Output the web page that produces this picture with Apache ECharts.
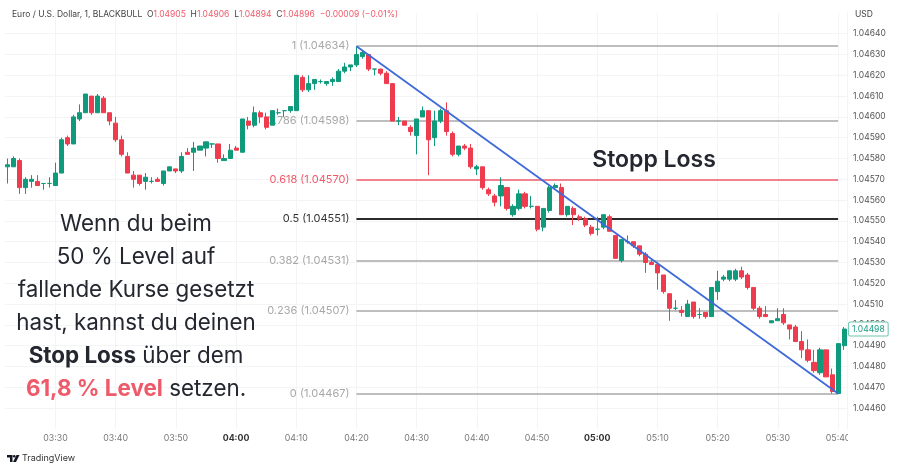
<!DOCTYPE html>
<html>
<head>
<meta charset="utf-8">
<title>EUR/USD Fibonacci</title>
<script src="https://cdn.jsdelivr.net/npm/echarts@6/dist/echarts.min.js"></script>
<style>
  html, body { margin: 0; padding: 0; background: #fff; }
  #chart { width: 900px; height: 470px; }
</style>
</head>
<body>
<div id="chart"></div>
<script>
const times = [
  '03:22','03:23','03:24','03:25','03:26','03:27','03:28','03:29','03:30','03:31',
  '03:32','03:33','03:34','03:35','03:36','03:37','03:38','03:39','03:40','03:41',
  '03:42','03:43','03:44','03:45','03:46','03:47','03:48','03:49','03:50','03:51',
  '03:52','03:53','03:54','03:55','03:56','03:57','03:58','03:59','04:00','04:01',
  '04:02','04:03','04:04','04:05','04:06','04:07','04:08','04:09','04:10','04:11',
  '04:12','04:13','04:14','04:15','04:16','04:17','04:18','04:19','04:20','04:21',
  '04:22','04:23','04:24','04:25','04:26','04:27','04:28','04:29','04:30','04:31',
  '04:32','04:33','04:34','04:35','04:36','04:37','04:38','04:39','04:40','04:41',
  '04:42','04:43','04:44','04:45','04:46','04:47','04:48','04:49','04:50','04:51',
  '04:52','04:53','04:54','04:55','04:56','04:57','04:58','04:59','05:00','05:01',
  '05:02','05:03','05:04','05:05','05:06','05:07','05:08','05:09','05:10','05:11',
  '05:12','05:13','05:14','05:15','05:16','05:17','05:18','05:19','05:20','05:21',
  '05:22','05:23','05:24','05:25','05:26','05:27','05:28','05:29','05:30','05:31',
  '05:32','05:33','05:34','05:35','05:36','05:37','05:38','05:39','05:40','05:41'
];

const opens = [
  1.04576,1.04576,1.04579,1.04566,1.04569,1.04569,1.04568,1.04568,1.04567,1.04573,
  1.04590,1.04587,1.04599,1.04602,1.04610,1.04602,1.04609,1.04602,1.04597,1.04589,
  1.04581,1.04572,1.04572,1.04569,1.04569,1.04570,1.04568,1.04574,1.04575,1.04574,
  1.04583,1.04583,1.04584,1.04585,1.04587,1.04587,1.04579,1.04580,1.04585,1.04583,
  1.04598,1.04596,1.04602,1.04600,1.04596,1.04602,1.04603,1.04603,1.04603,1.04619,
  1.04613,1.04616,1.04617,1.04616,1.04617,1.04617,1.04622,1.04624,1.04625,1.04629,
  1.04630,1.04623,1.04623,1.04621,1.04616,1.04598,1.04598,1.04595,1.04591,1.04600,
  1.04603,1.04590,1.04598,1.04603,1.04592,1.04582,1.04586,1.04585,1.04575,1.04576,
  1.04565,1.04562,1.04562,1.04566,1.04553,1.04556,1.04563,1.04557,1.04557,1.04547,
  1.04555,1.04566,1.04566,1.04553,1.04556,1.04552,1.04551,1.04547,1.04546,1.04547,
  1.04552,1.04543,1.04531,1.04540,1.04540,1.04538,1.04534,1.04530,1.04529,1.04524,
  1.04515,1.04508,1.04507,1.04504,1.04511,1.04505,1.04506,1.04504,1.04516,1.04522,
  1.04522,1.04522,1.04526,1.04524,1.04518,1.04508,1.04505,1.04501,1.04502,1.04505,
  1.04500,1.04499,1.04492,1.04488,1.04482,1.04477,1.04488,1.04476,1.04467,1.04490
];
const closes = [
  1.04577,1.04580,1.04566,1.04570,1.04570,1.04567,1.04568,1.04568,1.04573,1.04589,
  1.04587,1.04600,1.04602,1.04611,1.04602,1.04610,1.04602,1.04598,1.04589,1.04582,
  1.04573,1.04570,1.04568,1.04571,1.04569,1.04569,1.04574,1.04576,1.04574,1.04581,
  1.04582,1.04585,1.04586,1.04588,1.04587,1.04580,1.04580,1.04584,1.04584,1.04599,
  1.04596,1.04602,1.04600,1.04595,1.04603,1.04602,1.04603,1.04605,1.04620,1.04613,
  1.04616,1.04618,1.04617,1.04617,1.04618,1.04622,1.04624,1.04625,1.04630,1.04631,
  1.04623,1.04623,1.04621,1.04616,1.04598,1.04598,1.04596,1.04593,1.04599,1.04603,
  1.04589,1.04598,1.04603,1.04593,1.04582,1.04586,1.04585,1.04576,1.04576,1.04566,
  1.04563,1.04559,1.04567,1.04556,1.04557,1.04563,1.04557,1.04557,1.04546,1.04556,
  1.04566,1.04567,1.04553,1.04557,1.04553,1.04551,1.04548,1.04544,1.04546,1.04553,
  1.04545,1.04532,1.04541,1.04540,1.04538,1.04534,1.04530,1.04529,1.04525,1.04516,
  1.04508,1.04508,1.04506,1.04510,1.04504,1.04505,1.04504,1.04518,1.04521,1.04523,
  1.04526,1.04526,1.04523,1.04518,1.04508,1.04504,1.04504,1.04502,1.04503,1.04501,
  1.04498,1.04492,1.04488,1.04483,1.04478,1.04488,1.04475,1.04468,1.04491,1.04498
];
const highs = [
  1.04580,1.04581,1.04580,1.04571,1.04572,1.04572,1.04568,1.04571,1.04578,1.04590,
  1.04591,1.04601,1.04606,1.04611,1.04610,1.04611,1.04610,1.04602,1.04600,1.04591,
  1.04583,1.04574,1.04572,1.04573,1.04571,1.04571,1.04574,1.04576,1.04575,1.04583,
  1.04585,1.04588,1.04586,1.04588,1.04587,1.04587,1.04582,1.04587,1.04586,1.04599,
  1.04600,1.04605,1.04603,1.04602,1.04603,1.04604,1.04603,1.04605,1.04620,1.04620,
  1.04620,1.04618,1.04618,1.04617,1.04619,1.04623,1.04626,1.04625,1.04634,1.04632,
  1.04630,1.04623,1.04623,1.04622,1.04616,1.04600,1.04598,1.04596,1.04599,1.04605,
  1.04603,1.04603,1.04604,1.04607,1.04593,1.04586,1.04587,1.04587,1.04577,1.04576,
  1.04566,1.04563,1.04571,1.04566,1.04558,1.04565,1.04564,1.04562,1.04557,1.04556,
  1.04567,1.04568,1.04568,1.04557,1.04557,1.04553,1.04552,1.04548,1.04552,1.04553,
  1.04553,1.04543,1.04541,1.04543,1.04540,1.04538,1.04535,1.04532,1.04530,1.04524,
  1.04515,1.04512,1.04509,1.04512,1.04511,1.04508,1.04506,1.04518,1.04526,1.04524,
  1.04526,1.04527,1.04528,1.04525,1.04518,1.04509,1.04509,1.04502,1.04508,1.04508,
  1.04500,1.04500,1.04497,1.04493,1.04488,1.04489,1.04488,1.04479,1.04491,1.04499
];
const lows = [
  1.04568,1.04576,1.04563,1.04563,1.04566,1.04567,1.04565,1.04566,1.04567,1.04573,
  1.04586,1.04587,1.04598,1.04602,1.04601,1.04602,1.04602,1.04596,1.04588,1.04581,
  1.04573,1.04566,1.04567,1.04565,1.04568,1.04569,1.04567,1.04574,1.04573,1.04573,
  1.04582,1.04574,1.04584,1.04581,1.04585,1.04578,1.04579,1.04580,1.04584,1.04583,
  1.04594,1.04595,1.04597,1.04594,1.04596,1.04601,1.04600,1.04602,1.04603,1.04612,
  1.04612,1.04613,1.04616,1.04615,1.04615,1.04617,1.04621,1.04622,1.04624,1.04628,
  1.04622,1.04620,1.04620,1.04616,1.04598,1.04596,1.04596,1.04591,1.04582,1.04600,
  1.04572,1.04586,1.04597,1.04591,1.04581,1.04581,1.04584,1.04575,1.04572,1.04565,
  1.04562,1.04557,1.04557,1.04555,1.04552,1.04555,1.04556,1.04556,1.04545,1.04545,
  1.04554,1.04565,1.04553,1.04552,1.04548,1.04550,1.04547,1.04543,1.04543,1.04546,
  1.04545,1.04532,1.04530,1.04539,1.04537,1.04533,1.04525,1.04529,1.04517,1.04515,
  1.04502,1.04507,1.04504,1.04504,1.04503,1.04503,1.04503,1.04504,1.04512,1.04521,
  1.04521,1.04521,1.04522,1.04517,1.04507,1.04503,1.04504,1.04501,1.04502,1.04500,
  1.04493,1.04492,1.04484,1.04482,1.04477,1.04476,1.04475,1.04467,1.04467,1.04488
];

const fibRatios = ['1', '0.786', '0.618', '0.5', '0.382', '0.236', '0'];
const fibPrices = [1.04634, 1.04598, 1.04570, 1.04551, 1.04531, 1.04507, 1.04467];
const fibStart = '04:20';
const fibEnd = '05:40';
const lastPrice = 1.04498;

const GREEN = '#0f9a7c', RED = '#ef3b4e', GREY = '#a8a8a8', INK = '#24272f';
const FONT = 'Inter, "Noto Sans", sans-serif';

const candles = times.map((t, i) => [opens[i], closes[i], lows[i], highs[i]]);
const isTenMinute = (i, v) => v.slice(-1) === '0';

function fibStyle(ratio) {
  if (ratio === '0.618') return { line: '#ef5a6a', label: '#ef5a6a', width: 1.5 };
  if (ratio === '0.5') return { line: '#2b2b2b', label: '#333', width: 2 };
  return { line: GREY, label: '#a8a8a8', width: 1.5 };
}

const fibLines = fibPrices.map((price, i) => {
  const s = fibStyle(fibRatios[i]);
  return [{
    coord: [fibStart, price],
    lineStyle: { color: s.line, width: s.width, type: 'solid' },
    label: {
      show: true, position: 'start', distance: 7, color: s.label,
      fontSize: 11, fontFamily: FONT,
      formatter: fibRatios[i] + ' (' + price.toFixed(5) + ')'
    }
  }, { coord: [fibEnd, price] }];
});

const chart = echarts.init(document.getElementById('chart'));
chart.setOption({
  animation: false,
  backgroundColor: '#fff',
  textStyle: { fontFamily: FONT },
  grid: { left: 4.3, top: 12.9, width: 842.8, height: 416 },
  xAxis: {
    type: 'category',
    data: times,
    boundaryGap: true,
    axisLine: { show: false },
    axisTick: { show: false },
    splitLine: { show: true, alignWithLabel: true, interval: isTenMinute, lineStyle: { color: '#f3f4f6', width: 1 } },
    axisLabel: {
      interval: isTenMinute,
      margin: 5,
      fontSize: 8.8,
      fontFamily: FONT,
      color: '#777',
      formatter: v => v.slice(-2) === '00' ? '{b|' + v + '}' : v,
      rich: { b: { fontSize: 8.8, fontWeight: 700, color: '#333', fontFamily: FONT } }
    }
  },
  yAxis: {
    type: 'value',
    position: 'right',
    min: 1.0445,
    max: 1.0465,
    interval: 0.0001,
    scale: true,
    axisLine: { show: true, lineStyle: { color: '#f3f4f6' } },
    axisTick: { show: false },
    splitLine: { show: true, showMinLine: false, showMaxLine: false, lineStyle: { color: '#f3f4f6', width: 1 } },
    axisLabel: {
      showMinLabel: false,
      showMaxLabel: false,
      margin: 6,
      fontSize: 8.5,
      fontFamily: FONT,
      color: '#555',
      formatter: v => v.toFixed(5)
    }
  },
  series: [
    {
      type: 'line',
      data: [],
      silent: true,
      markLine: {
        silent: true, z: 1, symbol: 'none', animation: false,
        data: fibLines
      }
    },
    {
      type: 'candlestick',
      data: candles,
      barWidth: 4.6,
      itemStyle: {
        color: GREEN, color0: RED,
        borderColor: GREEN, borderColor0: RED, borderColorDoji: GREEN,
        borderWidth: 1
      },
      markLine: {
        silent: true, symbol: 'none', animation: false,
        label: { show: false },
        lineStyle: { color: '#3f6bd8', width: 1.8, type: 'solid' },
        data: [[{ coord: [fibStart, fibPrices[0]] }, { coord: [fibEnd, fibPrices[6]] }]]
      },
      markPoint: {
        silent: true, symbol: 'circle', symbolSize: 0, animation: false,
        data: [{ coord: [times[times.length - 1], lastPrice] }],
        label: {
          show: true, position: 'right', distance: 5,
          formatter: lastPrice.toFixed(5),
          fontSize: 8.5, fontFamily: FONT, color: '#1a9c80',
          backgroundColor: '#fff', borderColor: '#6cc4ae', borderWidth: 1,
          padding: [2, 3], borderRadius: 1
        }
      }
    }
  ],
  graphic: [
    // price axis covers the last time label
    { type: 'rect', z: 50, shape: { x: 848, y: 430, width: 52, height: 16 }, style: { fill: '#fff' } },
    { type: 'text', z: 60, style: {
      x: 12, y: 14, verticalAlign: 'middle', font: '8.5px ' + FONT, fill: '#444',
      text: 'Euro / U.S. Dollar, 1, BLACKBULL  O{r|1.04905}  H{r|1.04906}  L{r|1.04894}  C{r|1.04896}  {r|\u22120.00009 (\u22120.01%)}',
      rich: { r: { fill: '#ef5a6a', fontSize: 8.5, fontFamily: FONT } }
    } },
    { type: 'text', z: 60, style: { x: 864, y: 14, verticalAlign: 'middle', textAlign: 'center', font: '8.5px ' + FONT, fill: '#444', text: 'USD' } },
    { type: 'text', z: 60, style: { x: 654, y: 160, verticalAlign: 'middle', textAlign: 'center', font: '600 23px ' + FONT, fill: INK, text: 'Stopp Loss' } },
    { type: 'text', z: 60, style: { x: 136, y: 224, verticalAlign: 'middle', textAlign: 'center', font: '22.4px ' + FONT, fill: INK, text: 'Wenn du beim' } },
    { type: 'text', z: 60, style: { x: 136, y: 257, verticalAlign: 'middle', textAlign: 'center', font: '22.4px ' + FONT, fill: INK, text: '50 % Level auf' } },
    { type: 'text', z: 60, style: { x: 136, y: 290, verticalAlign: 'middle', textAlign: 'center', font: '22.4px ' + FONT, fill: INK, text: 'fallende Kurse gesetzt' } },
    { type: 'text', z: 60, style: { x: 136, y: 323, verticalAlign: 'middle', textAlign: 'center', font: '22.4px ' + FONT, fill: INK, text: 'hast, kannst du deinen' } },
    { type: 'text', z: 60, style: {
      x: 136, y: 356, verticalAlign: 'middle', textAlign: 'center', font: '22.4px ' + FONT, fill: INK,
      text: '{b|Stop Loss} über dem',
      rich: { b: { fontSize: 22.4, fontWeight: 700, fontFamily: FONT, fill: INK } }
    } },
    { type: 'text', z: 60, style: {
      x: 136, y: 389, verticalAlign: 'middle', textAlign: 'center', font: '22.4px ' + FONT, fill: INK,
      text: '{b|61,8 % Level} setzen.',
      rich: { b: { fontSize: 22.4, fontWeight: 700, fontFamily: FONT, fill: '#ef5a6a' } }
    } },
    // TradingView mark and name
    { type: 'polygon', z: 60, shape: { points: [[7, 455], [12.5, 455], [12.5, 462], [10, 462], [10, 457.5], [7, 457.5]] }, style: { fill: '#131722' } },
    { type: 'circle', z: 60, shape: { cx: 14.2, cy: 456.3, r: 1.3 }, style: { fill: '#131722' } },
    { type: 'polygon', z: 60, shape: { points: [[16.5, 455], [19.5, 455], [16, 462], [13, 462]] }, style: { fill: '#131722' } },
    { type: 'text', z: 60, style: { x: 22, y: 458.5, verticalAlign: 'middle', font: '9px ' + FONT, fill: '#333', text: 'TradingView' } }
  ]
});
</script>
</body>
</html>
